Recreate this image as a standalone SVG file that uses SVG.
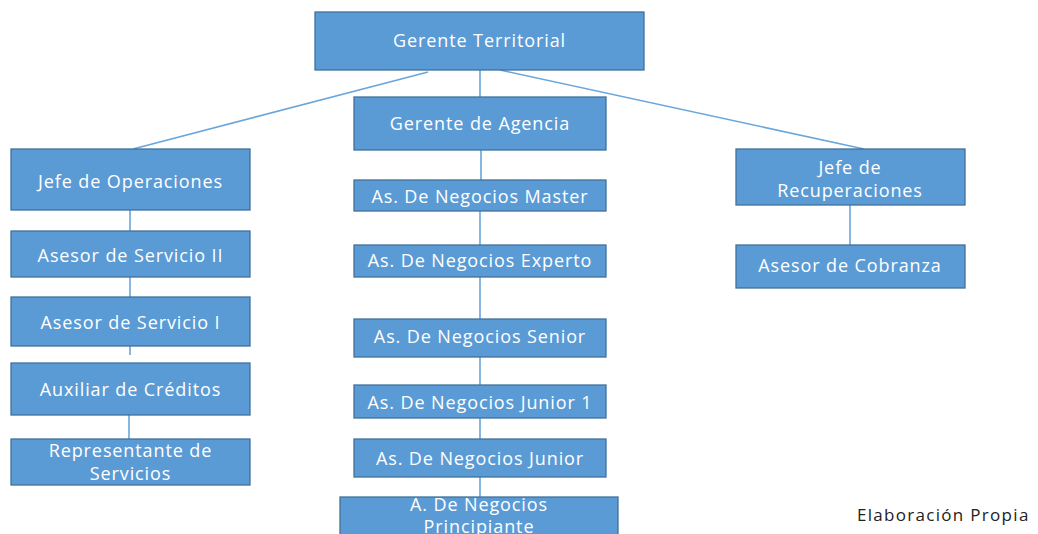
<svg xmlns="http://www.w3.org/2000/svg" width="1038" height="534" viewBox="0 0 1038 534">
<style>
.box{fill:#5b9bd5;stroke:#41719c;stroke-width:1.3}
.t{fill:#ffffff;font-family:"Open Sans","Noto Sans","DejaVu Sans",sans-serif;font-size:18px;letter-spacing:0.9px;text-anchor:middle;dominant-baseline:central}
.c{stroke:#6aa6da;stroke-width:1.6;fill:none}
.note{fill:#222;font-family:"Open Sans","Noto Sans",sans-serif;font-size:17px;letter-spacing:1.3px;dominant-baseline:central}
</style>
<rect width="1038" height="534" fill="#ffffff"/>
<g id="connectors">
<line class="c" x1="428" y1="72" x2="133" y2="149"/>
<line class="c" x1="500" y1="70" x2="864" y2="149"/>
<line class="c" x1="480" y1="70" x2="480" y2="97"/>
<line class="c" x1="481" y1="150" x2="481" y2="180"/>
<line class="c" x1="480" y1="211" x2="480" y2="245"/>
<line class="c" x1="480" y1="277" x2="480" y2="319"/>
<line class="c" x1="480" y1="357" x2="480" y2="385"/>
<line class="c" x1="480" y1="418" x2="480" y2="439"/>
<line class="c" x1="480" y1="477" x2="480" y2="497"/>
<line class="c" x1="130" y1="210" x2="130" y2="231"/>
<line class="c" x1="130" y1="277" x2="130" y2="297"/>
<line class="c" x1="130" y1="346" x2="130" y2="355"/>
<line class="c" x1="129" y1="415" x2="129" y2="439"/>
<line class="c" x1="850" y1="205" x2="850" y2="245"/>
</g>
<g id="gerente-territorial"><rect class="box" x="315" y="12" width="329" height="58"/><text class="t" x="479.5" y="40">Gerente Territorial</text></g>
<g id="gerente-agencia"><rect class="box" x="354" y="97" width="252" height="53"/><text class="t" x="480" y="123">Gerente de Agencia</text></g>
<g id="jefe-operaciones"><rect class="box" x="11" y="149" width="239" height="61"/><text class="t" x="130.5" y="181">Jefe de Operaciones</text></g>
<g id="asesor-servicio-ii"><rect class="box" x="11" y="231" width="239" height="46"/><text class="t" x="130.5" y="255">Asesor de Servicio II</text></g>
<g id="asesor-servicio-i"><rect class="box" x="11" y="297" width="239" height="49"/><text class="t" x="130.5" y="322">Asesor de Servicio I</text></g>
<g id="auxiliar-creditos"><rect class="box" x="11" y="363" width="239" height="52"/><text class="t" x="130.5" y="389">Auxiliar de Créditos</text></g>
<g id="representante-servicios"><rect class="box" x="11" y="439" width="239" height="46"/><text class="t" x="130.5" y="450">Representante de</text><text class="t" x="130.5" y="473">Servicios</text></g>
<g id="negocios-master"><rect class="box" x="354" y="180" width="252" height="31"/><text class="t" x="480" y="196">As. De Negocios Master</text></g>
<g id="negocios-experto"><rect class="box" x="354" y="245" width="252" height="32"/><text class="t" x="480" y="260">As. De Negocios Experto</text></g>
<g id="negocios-senior"><rect class="box" x="354" y="319" width="252" height="38"/><text class="t" x="480" y="336">As. De Negocios Senior</text></g>
<g id="negocios-junior-1"><rect class="box" x="354" y="385" width="252" height="33"/><text class="t" x="480" y="402">As. De Negocios Junior 1</text></g>
<g id="negocios-junior"><rect class="box" x="354" y="439" width="252" height="38"/><text class="t" x="480" y="458">As. De Negocios Junior</text></g>
<g id="negocios-principiante"><rect class="box" x="340" y="497" width="278" height="45"/><text class="t" x="479" y="504">A. De Negocios</text><text class="t" x="479" y="526">Principiante</text></g>
<g id="jefe-recuperaciones"><rect class="box" x="736" y="149" width="229" height="56"/><text class="t" x="850" y="167">Jefe de</text><text class="t" x="850" y="190">Recuperaciones</text></g>
<g id="asesor-cobranza"><rect class="box" x="736" y="245" width="229" height="43"/><text class="t" x="850" y="265">Asesor de Cobranza</text></g>
<text class="note" x="857" y="514">Elaboración Propia</text>
</svg>
